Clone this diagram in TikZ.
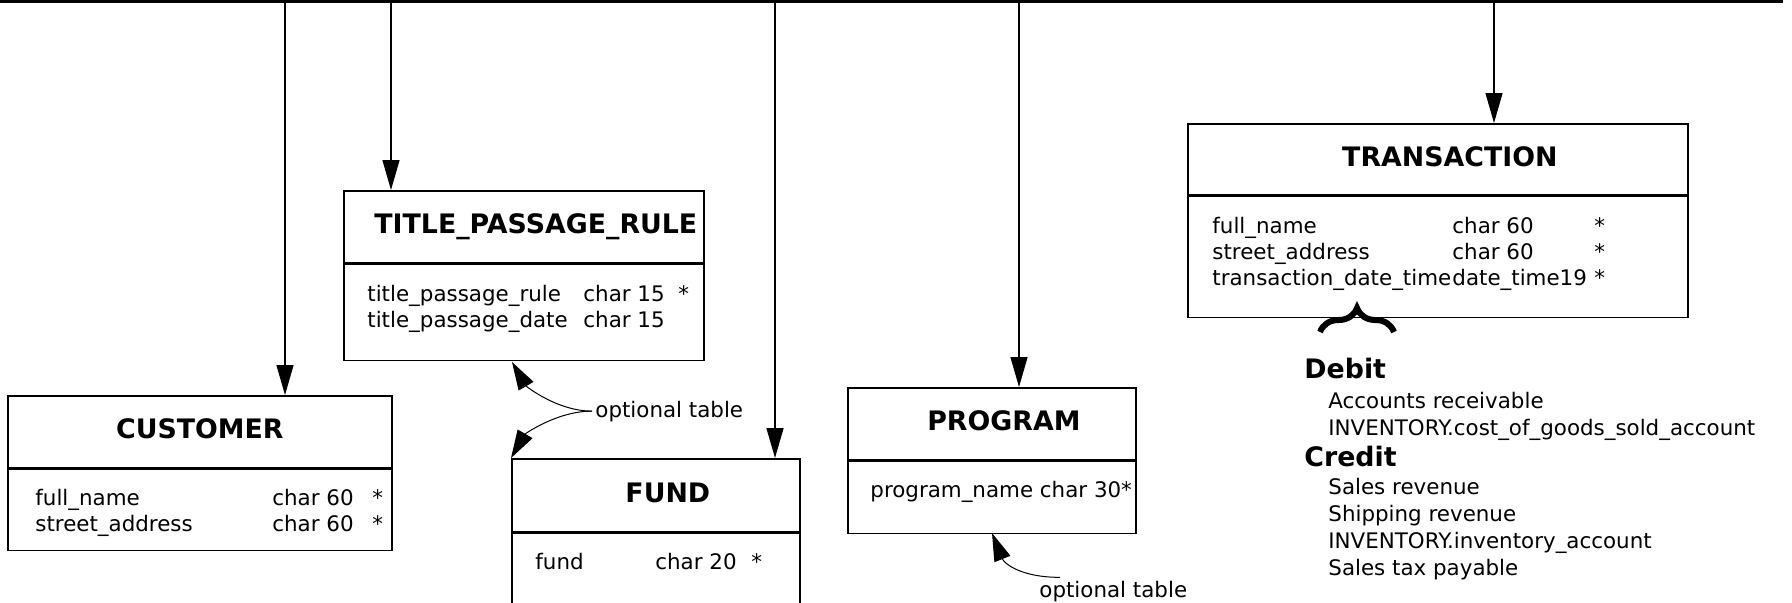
\documentclass[tikz,border=0pt]{standalone}
\usepackage{fontspec}
\setmainfont{DejaVu Sans}
\usetikzlibrary{arrows.meta,decorations.pathreplacing,positioning}

\newcommand{\fieldfont}{\fontsize{10.7}{13}\selectfont}
\newcommand{\headfont}{\fontsize{13.4}{15}\selectfont\bfseries}

\tikzstyle{table head} = [draw, line width=0.85pt, anchor=north west, inner sep=0pt, text depth=3pt, font=\headfont]
\tikzstyle{shifted} = [execute at begin node={\hspace*{12pt}}]
\tikzstyle{table body} = [draw, line width=0.85pt, inner sep=0pt]
\tikzstyle{fields} = [anchor=base west, inner sep=0pt, font=\fieldfont]
\tikzstyle{bus} = [draw, line width=1.3pt]
\tikzstyle{feed} = [draw, line width=0.65pt, -{Triangle[length=15pt,width=8.5pt]}]
\tikzstyle{note arrow} = [draw, line width=0.5pt, -{Triangle[length=14pt,width=8.5pt]}]
\tikzstyle{curly} = [draw, decorate, decoration={brace, amplitude=12pt}, line width=3pt]

\begin{document}
\begin{tikzpicture}[x=0.5pt, y=-0.5pt]
    \useasboundingbox (0,0) rectangle (1792,602);
    \clip (0,0) rectangle (1792,602);

    % The tables
    \node[table head, minimum width=192pt, minimum height=36pt] (cust-head) at (7,395) {CUSTOMER};
    \node[table body, minimum width=192pt, minimum height=40.5pt, below=0pt of cust-head] (cust-body) {};

    \node[table head, shifted, minimum width=180pt, minimum height=36pt] (tpr-head) at (343,190) {TITLE\_PASSAGE\_RULE};
    \node[table body, minimum width=180pt, minimum height=48pt, below=0pt of tpr-head] (tpr-body) {};

    \node[table head, shifted, minimum width=144pt, minimum height=36.5pt] (fund-head) at (511,458) {FUND};
    \node[table body, minimum width=144pt, minimum height=45pt, below=0pt of fund-head] (fund-body) {};

    \node[table head, shifted, minimum width=144pt, minimum height=36pt] (prog-head) at (847,387) {PROGRAM};
    \node[table body, minimum width=144pt, minimum height=36pt, below=0pt of prog-head] (prog-body) {};

    \node[table head, shifted, minimum width=250pt, minimum height=35.5pt] (trans-head) at (1187,123) {TRANSACTION};
    \node[table body, minimum width=250pt, minimum height=60.5pt, below=0pt of trans-head] (trans-body) {};

    % The fields
    \node[fields] (cust-fields) at (35,505) {\begin{tabular}[t]{@{}p{118.5pt}@{}p{50pt}@{}l@{}}
      full\_name & char 60 & *\\ street\_address & char 60 & *\end{tabular}};
    \node[fields] (tpr-fields) at (367,301) {\begin{tabular}[t]{@{}p{108pt}@{}p{47.5pt}@{}l@{}}
      title\_passage\_rule & char 15 & *\\ title\_passage\_date & char 15 & \end{tabular}};
    \node[fields] (fund-fields) at (535,569) {\begin{tabular}[t]{@{}p{60pt}@{}p{48pt}@{}l@{}}
      fund & char 20 & *\end{tabular}};
    \node[fields] (prog-fields) at (870,497) {program\_name char 30*};
    \node[fields] (trans-fields) at (1212,233) {\begin{tabular}[t]{@{}p{120pt}@{}p{71pt}@{}l@{}}
      full\_name & char 60 & *\\ street\_address & char 60 & *\\
      transaction\_date\_time & date\_time19 & *\end{tabular}};

    % The postings
    \node[fields, font=\fontsize{10.7}{13.5}\selectfont] (entries) at (1304,378) {\begin{tabular}[t]{@{}l@{}}
      {\headfont Debit}\\[1.5pt]
      \hspace*{12pt}Accounts receivable\\
      \hspace*{12pt}INVENTORY.cost\_of\_goods\_sold\_account\\[1.5pt]
      {\headfont Credit}\\[0.5pt]
      \hspace*{12pt}Sales revenue\\
      \hspace*{12pt}Shipping revenue\\
      \hspace*{12pt}INVENTORY.inventory\_account\\
      \hspace*{12pt}Sales tax payable\end{tabular}};
    \coordinate (brace-l) at (1320,332);
    \coordinate (brace-r) at (1394,332);
    \path[curly] (brace-l) -- (brace-r);

    % The bus and the drops
    \coordinate (bus-start) at (0,1.3);
    \coordinate (bus-end) at (1783,1.3);
    \path[bus] (bus-start) -- (bus-end);
    \foreach \x/\name in {285/cust, 391/tpr, 775/fund, 1019/prog, 1494/trans} {
      \coordinate (drop-\name) at (\x,1.3);
      \path[feed] (drop-\name) -- (drop-\name |- \name-head.north);
    }

    % optional tables
    \node[fields, inner sep=1.5pt] (opt-a) at (592,417) {optional table};
    \coordinate (tpr-tip) at (512,362);
    \path[note arrow] (opt-a.west) .. controls +(-35,0) and +(14,24) .. (tpr-tip);
    \path[note arrow] (opt-a.west) .. controls +(-35,0) and +(14,-24) .. (fund-head.north west);

    \node[fields, inner sep=1.5pt] (opt-b) at (1036,597) {optional table};
    \coordinate (prog-tip) at (992,533);
    \path[note arrow] ([xshift=12pt]opt-b.north west) .. controls +(-40,0) and +(12,30) .. (prog-tip);

\end{tikzpicture}
\end{document}
